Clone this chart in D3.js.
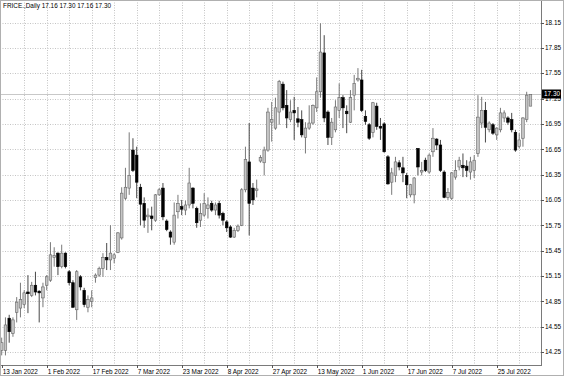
<!DOCTYPE html>
<html>
<head>
<meta charset="UTF-8">
<style>
	body { margin: 0; background: #fff; }
	svg { display: block; }
	text { font-family: "Liberation Sans", Arial, sans-serif; font-size: 6.4px; fill: #000; }
</style>
</head>
<body>
<script src="https://cdn.jsdelivr.net/npm/d3@7/dist/d3.min.js"></script>
<script>
var symbol = "FRICE.,Daily";
var lastBar = "17.16 17.30 17.16 17.30";
var bidPrice = 17.30;

var open = [14.27,14.27,14.65,14.47,14.72,14.77,14.81,14.96,14.92,15.04,14.97,14.89,15.04,15.10,15.37,15.42,15.26,15.42,15.20,15.07,
	14.75,15.14,14.98,14.78,14.85,15.13,15.16,15.24,15.37,15.34,15.36,15.43,15.60,16.07,16.19,16.64,16.58,16.20,16.01,15.85,
	15.86,15.81,16.11,16.19,15.80,15.67,15.55,15.91,15.97,15.93,15.99,16.19,15.95,15.81,15.87,15.95,16.01,15.93,16.01,15.89,
	15.79,15.73,15.61,15.69,15.75,16.17,16.50,16.19,16.16,16.51,16.49,16.64,16.97,16.90,17.09,17.42,17.17,17.00,17.11,17.01,
	17.00,16.79,16.90,16.96,17.14,17.33,17.79,17.09,16.79,16.88,17.11,17.26,17.10,16.97,17.29,17.47,17.47,17.04,16.94,16.85,
	17.16,16.92,16.95,16.56,16.26,16.34,16.49,16.43,16.34,16.11,16.11,16.66,16.38,16.52,16.38,16.62,16.77,16.70,16.38,16.08,
	16.07,16.32,16.44,16.46,16.45,16.38,16.40,16.60,16.96,17.11,16.88,16.94,16.82,16.88,17.02,17.02,17.00,16.85,16.68,16.78,
	17.00,17.16];
var high = [14.42,14.66,14.69,14.66,14.90,15.07,14.98,15.16,15.08,15.20,14.98,15.07,15.16,15.55,15.49,15.43,15.52,15.43,15.22,15.10,
	15.22,15.16,15.01,14.92,14.98,15.18,15.26,15.42,15.54,15.75,15.42,15.67,16.20,16.43,16.85,16.78,16.68,16.24,16.08,15.95,
	15.97,16.12,16.19,16.25,15.82,15.69,16.02,16.11,16.05,16.04,16.43,16.20,15.97,16.01,16.13,16.08,16.04,16.02,16.04,15.91,
	15.81,15.75,15.72,15.76,16.19,16.68,16.96,16.25,16.29,16.58,16.68,17.14,17.21,17.26,17.47,17.45,17.35,17.23,17.27,17.15,
	17.11,16.97,17.17,17.18,17.50,18.14,18.00,17.11,17.02,17.23,17.43,17.29,17.17,17.35,17.53,17.61,17.59,17.11,16.96,17.21,
	17.20,17.02,16.97,16.58,16.43,16.56,16.52,16.56,16.37,16.24,16.32,16.66,16.50,16.55,16.60,16.90,16.78,16.76,16.40,16.19,
	16.38,16.52,16.56,16.60,16.52,16.56,16.58,17.29,17.27,17.21,16.98,16.96,16.91,17.14,17.11,17.04,17.08,16.88,16.84,17.03,
	17.33,17.30];
var low = [14.21,14.21,14.36,14.43,14.60,14.66,14.77,14.71,14.90,14.92,14.60,14.78,14.98,15.08,15.26,15.16,15.24,15.24,15.04,14.77,
	14.63,14.98,14.78,14.72,14.78,15.07,15.14,15.14,15.22,15.22,15.30,15.42,15.58,16.05,16.11,16.38,16.07,15.75,15.72,15.66,
	15.69,15.79,16.10,15.81,15.68,15.52,15.52,15.83,15.87,15.87,15.95,15.95,15.72,15.73,15.85,15.83,15.91,15.87,15.83,15.75,
	15.67,15.60,15.60,15.67,15.74,16.14,15.63,15.99,16.08,16.49,16.34,16.62,16.74,16.88,16.94,17.11,16.90,16.97,16.76,16.91,
	16.79,16.60,16.88,16.94,17.09,17.26,16.97,16.70,16.70,16.85,17.02,16.90,16.84,16.96,17.11,17.45,17.09,16.94,16.76,16.79,
	16.88,16.76,16.61,16.23,16.11,16.26,16.40,16.26,16.07,16.08,16.01,16.34,16.34,16.38,16.36,16.56,16.64,16.38,16.07,16.05,
	16.05,16.29,16.40,16.32,16.32,16.29,16.31,16.56,16.90,16.73,16.85,16.82,16.76,16.85,16.97,16.94,16.85,16.62,16.66,16.68,
	16.97,17.16];
var close = [14.36,14.57,14.49,14.63,14.84,14.87,14.95,14.94,15.04,14.96,14.95,15.02,15.14,15.40,15.39,15.26,15.42,15.26,15.07,14.78,
	15.20,15.02,14.81,14.87,14.89,15.16,15.24,15.37,15.34,15.42,15.40,15.66,16.13,16.20,16.34,16.40,16.26,16.00,15.81,15.87,
	15.83,16.11,16.17,15.85,15.70,15.61,15.87,16.01,15.94,15.99,16.25,16.01,15.78,15.89,16.01,15.99,15.93,15.99,15.87,15.81,
	15.72,15.61,15.69,15.74,16.17,16.53,16.01,16.05,16.18,16.55,16.64,17.09,17.00,17.14,17.45,17.14,17.02,17.09,17.08,16.97,
	16.82,16.90,16.96,17.17,17.33,17.80,17.02,16.79,16.97,17.15,17.26,17.14,17.07,17.26,17.43,17.49,17.11,16.98,16.78,17.20,
	16.92,16.90,16.62,16.24,16.37,16.50,16.44,16.37,16.23,16.23,16.31,16.44,16.40,16.40,16.58,16.78,16.70,16.40,16.08,16.14,
	16.37,16.40,16.52,16.43,16.40,16.50,16.52,17.03,17.11,16.91,16.96,16.84,16.90,17.08,17.08,16.97,16.88,16.64,16.76,17.02,
	17.29,17.30];

var priceTicks = [14.25,14.55,14.85,15.15,15.45,15.75,16.05,16.35,16.65,16.95,17.25,17.55,17.85,18.15];
var dateTickBars = [0,12,24,36,48,60,72,84,96,108,120,132];
var dateTickLabels = ["13 Jan 2022","1 Feb 2022","17 Feb 2022","7 Mar 2022","23 Mar 2022","8 Apr 2022",
	"27 Apr 2022","13 May 2022","1 Jun 2022","17 Jun 2022","7 Jul 2022","25 Jul 2022"];
var gridBars = d3.range(0, open.length, 6);

var width = 564, height = 376
	,plotRight = 541, plotBottom = 365
	,svg = d3.select('body').append('svg').attr('width', width).attr('height', height);

var x = d3.scaleLinear().domain([0, 141]).range([1.7, 530.45]);
var y = d3.scaleLinear().domain([14.25, 18.15]).range([352, 22.5]);

// grid
svg.append('g').selectAll('line').data(priceTicks).join('line')
	.attr('x1', 0).attr('x2', plotRight)
	.attr('y1', function(d){ return Math.round(y(d)) + 0.5; })
	.attr('y2', function(d){ return Math.round(y(d)) + 0.5; })
	.attr('stroke', '#c4c4c4').attr('stroke-dasharray', '1,1.5');

svg.append('g').selectAll('line').data(gridBars.slice(1)).join('line')
	.attr('x1', function(d){ return Math.round(x(d)) + 0.5; })
	.attr('x2', function(d){ return Math.round(x(d)) + 0.5; })
	.attr('y1', 0).attr('y2', plotBottom)
	.attr('stroke', '#c4c4c4').attr('stroke-dasharray', '1,1.5');

// bid line
svg.append('line')
	.attr('x1', 0).attr('x2', plotRight)
	.attr('y1', Math.round(y(bidPrice)) + 0.5).attr('y2', Math.round(y(bidPrice)) + 0.5)
	.attr('stroke', '#c8c8c8');

// candles
var bars = d3.range(open.length);
var up = function(i){ return close[i] >= open[i]; };

svg.append('g').selectAll('line').data(bars).join('line')
	.attr('x1', function(i){ return x(i); })
	.attr('x2', function(i){ return x(i); })
	.attr('y1', function(i){ return y(high[i]); })
	.attr('y2', function(i){ return y(low[i]); })
	.attr('stroke', function(i){ return up(i) ? '#6a6a6a' : '#333'; })
	.attr('stroke-width', 0.9);

svg.append('g').selectAll('rect').data(bars).join('rect')
	.attr('x', function(i){ return x(i) - 1.3; })
	.attr('width', 2.6)
	.attr('y', function(i){ return y(Math.max(open[i], close[i])); })
	.attr('height', function(i){ return Math.max(1, Math.abs(y(open[i]) - y(close[i]))); })
	.attr('fill', function(i){ return up(i) ? '#c6c6c6' : '#000'; })
	.attr('stroke', function(i){ return up(i) ? '#666' : '#000'; })
	.attr('stroke-width', 0.6);

// frame
svg.append('rect').attr('x', 0.5).attr('y', 0.5).attr('width', plotRight).attr('height', plotBottom)
	.attr('fill', 'none').attr('stroke', '#7a7a7a');
svg.append('rect').attr('x', 0.5).attr('y', 0.5).attr('width', width - 1).attr('height', height - 1)
	.attr('fill', 'none').attr('stroke', '#b0b0b0');

// price axis
var pa = svg.append('g');
pa.selectAll('line').data(priceTicks).join('line')
	.attr('x1', plotRight).attr('x2', plotRight + 3)
	.attr('y1', function(d){ return Math.round(y(d)) + 0.5; })
	.attr('y2', function(d){ return Math.round(y(d)) + 0.5; })
	.attr('stroke', '#555');
pa.selectAll('text').data(priceTicks).join('text')
	.attr('x', plotRight + 4).attr('y', function(d){ return y(d) + 2.3; })
	.text(function(d){ return d.toFixed(2); });

var by = Math.round(y(bidPrice));
svg.append('rect').attr('x', plotRight + 1).attr('y', by - 4.5).attr('width', 19).attr('height', 9).attr('fill', '#000');
svg.append('text').attr('x', plotRight + 3).attr('y', by + 2.3).style('fill', '#fff').text(bidPrice.toFixed(2));

// time axis
var ta = svg.append('g');
ta.selectAll('line').data(dateTickBars).join('line')
	.attr('x1', function(d){ return Math.round(x(d)) + 0.5; })
	.attr('x2', function(d){ return Math.round(x(d)) + 0.5; })
	.attr('y1', plotBottom).attr('y2', plotBottom + 3)
	.attr('stroke', '#555');
ta.selectAll('text').data(dateTickBars).join('text')
	.attr('x', function(d){ return x(d) + 1; }).attr('y', plotBottom + 8.5)
	.text(function(d, i){ return dateTickLabels[i]; });

// header
svg.append('text').attr('x', 3).attr('y', 8).text(symbol + '  ' + lastBar);
</script>
</body>
</html>
